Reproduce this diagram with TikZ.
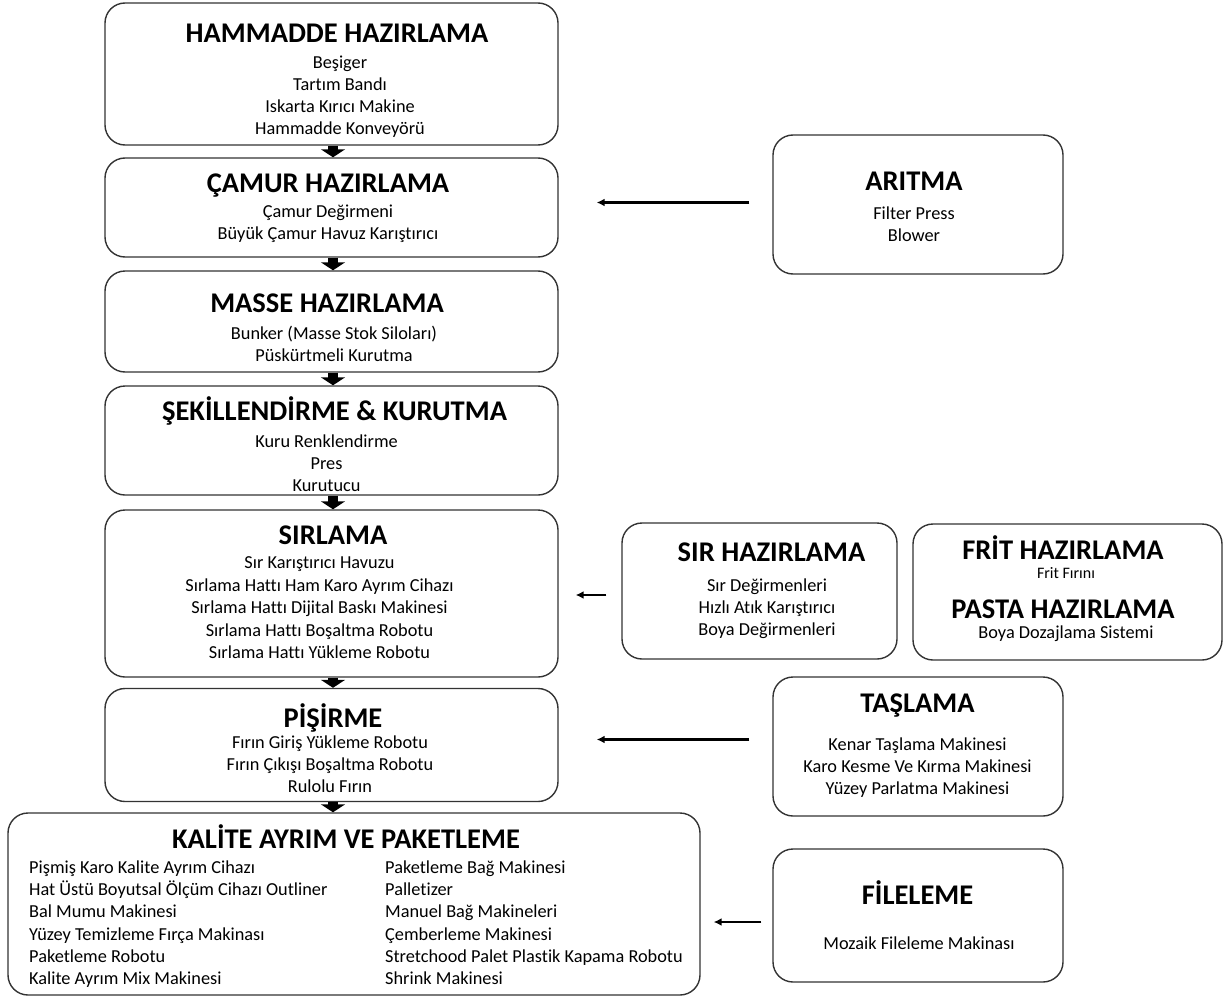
\documentclass[tikz,border=0pt]{standalone}
\usepackage{fontspec}
\setmainfont{Carlito}[Ligatures=NoCommon]
\usetikzlibrary{arrows.meta}
\newcommand\boxtitle[1]{{\fontsize{28.5}{30}\selectfont\bfseries #1}}
% title shifted horizontally by #1 relative to the centre of the items
\newcommand\shtitle[2]{\makebox[0pt][c]{\hspace*{#1}\hspace*{#1}\boxtitle{#2}}}
\begin{document}
\begin{tikzpicture}[x=1pt,y=-1pt,
  box/.style={draw=black!80, line width=1.4pt, rounded corners=20pt, inner sep=0pt},
  txt/.style={align=center, inner sep=0pt, font=\fontsize{18.3}{22}\selectfont},
  col/.style={align=left, inner sep=0pt, anchor=north west, font=\fontsize{18.3}{22.2}\selectfont},
  flow/.style={line width=10pt, -{Triangle[width=24pt,length=8pt]}},
  feed/.style={line width=2.4pt, -{Latex[length=8pt,width=8pt]}}]
\useasboundingbox (0,0) rectangle (1224,998);

% main column boxes
\node[box, minimum width=453pt, minimum height=142pt] (b1) at (331.5,74) {};
\node[box, minimum width=453pt, minimum height=99pt] (b2) at (331.5,207.5) {};
\node[box, minimum width=453pt, minimum height=101pt] (b3) at (331.5,321.5) {};
\node[box, minimum width=453pt, minimum height=109pt] (b4) at (331.5,440.5) {};
\node[box, minimum width=453pt, minimum height=167pt] (b5) at (331.5,593.5) {};
\node[box, minimum width=453pt, minimum height=113pt] (b6) at (331.5,745) {};
\node[box, minimum width=692pt, minimum height=182pt] (b7) at (354,904) {};

\node[txt] (b1t) at (340,80.5)
 {\shtitle{-3pt}{HAMMADDE HAZIRLAMA}\\[4pt] Beşiger\\ Tartım Bandı\\ Iskarta Kırıcı Makine\\ Hammadde Konveyörü};
\node[txt] (b2t) at (328,208)
 {\shtitle{0pt}{ÇAMUR HAZIRLAMA}\\[3pt] Çamur Değirmeni\\ Büyük Çamur Havuz Karıştırıcı};
\node[txt] (b3t) at (334,328)
 {\shtitle{-7pt}{MASSE HAZIRLAMA}\\[5pt] Bunker (Masse Stok Siloları)\\ Püskürtmeli Kurutma};
\node[txt] (b4t) at (326.5,444)
 {\shtitle{8pt}{ŞEKİLLENDİRME \& KURUTMA}\\[5pt] Kuru Renklendirme\\ Pres\\ Kurutucu};
\node[txt] (b5t) at (319.5,592.5)
 {\shtitle{13.5pt}{SIRLAMA}\\[2pt] Sır Karıştırıcı Havuzu\\[0.5pt] Sırlama Hattı Ham Karo Ayrım Cihazı\\[0.5pt] Sırlama Hattı Dijital Baskı Makinesi\\[0.5pt] Sırlama Hattı Boşaltma Robotu\\[0.5pt] Sırlama Hattı Yükleme Robotu};
\node[txt] (b6t) at (330,748.5)
 {\shtitle{3pt}{PİŞİRME}\\[-1pt] Fırın Giriş Yükleme Robotu\\ Fırın Çıkışı Boşaltma Robotu\\ Rulolu Fırın};
\node[txt] (b7title) at (346,837) {\boxtitle{KALİTE AYRIM VE PAKETLEME}};
\node[col] (b7left) at (29,860.5) {Pişmiş Karo Kalite Ayrım Cihazı\\ Hat Üstü Boyutsal Ölçüm Cihazı Outliner\\ Bal Mumu Makinesi\\ Yüzey Temizleme Fırça Makinası\\ Paketleme Robotu\\ Kalite Ayrım Mix Makinesi};
\node[col] (b7right) at (385,860.5) {Paketleme Bağ Makinesi\\ Palletizer\\ Manuel Bağ Makineleri\\ Çemberleme Makinesi\\ Stretchood Palet Plastik Kapama Robotu\\ Shrink Makinesi};

% side boxes
\node[box, minimum width=290pt, minimum height=139pt] (aritma) at (918,204.5) {};
\node[box, minimum width=275pt, minimum height=136pt] (sirhaz) at (759.5,591) {};
\node[box, minimum width=309pt, minimum height=136pt] (frit) at (1067.5,592) {};
\node[box, minimum width=290pt, minimum height=139pt] (taslama) at (918,746.5) {};
\node[box, minimum width=290pt, minimum height=133pt] (fileleme) at (918,915.5) {};

\node[txt] (aritmat) at (914,207) {\boxtitle{ARITMA}\\[7pt] Filter Press\\ Blower};
\node[txt] (sirhazt) at (767,590.5) {\shtitle{4.5pt}{SIR HAZIRLAMA}\\[8pt] Sır Değirmenleri\\ Hızlı Atık Karıştırıcı\\ Boya Değirmenleri};
\node[txt] (fritt) at (1066,589) {\shtitle{-3pt}{FRİT HAZIRLAMA}\\[-3.5pt] {\fontsize{16}{20}\selectfont Frit Fırını}\\[18.5pt] \shtitle{-3pt}{PASTA HAZIRLAMA}\\[-2pt] Boya Dozajlama Sistemi};
\node[txt] (taslamat) at (917.5,745.5) {\boxtitle{TAŞLAMA}\\[16pt] Kenar Taşlama Makinesi\\ Karo Kesme Ve Kırma Makinesi\\ Yüzey Parlatma Makinesi};
\node[txt] (filelemet) at (919,915) {\shtitle{-1.5pt}{FİLELEME}\\[23pt] Mozaik Fileleme Makinası};

% flow arrows
\foreach \a/\b in {b1/b2,b2/b3,b3/b4,b4/b5,b5/b6,b6/b7}
  \draw[flow] ([xshift=1.5pt]\a.south) -- ([xshift=1.5pt]\a.south |- \b.north);

% feed arrows (yshift positive = upwards)
\draw[feed, shorten <=23pt, shorten >=38pt] ([yshift=2pt]aritma.west) -- ([yshift=2pt]b2.east |- aritma.west);
\draw[feed, shorten <=15pt, shorten >=17pt] ([yshift=-4pt]sirhaz.west) -- ([yshift=-4pt]b5.east |- sirhaz.west);
\draw[feed, shorten <=23pt, shorten >=38pt] ([yshift=7pt]taslama.west) -- ([yshift=7pt]b6.east |- taslama.west);
\draw[feed, shorten <=11pt, shorten >=13pt] ([yshift=-6.5pt]fileleme.west) -- ([yshift=-6.5pt]b7.east |- fileleme.west);
\end{tikzpicture}
\end{document}
